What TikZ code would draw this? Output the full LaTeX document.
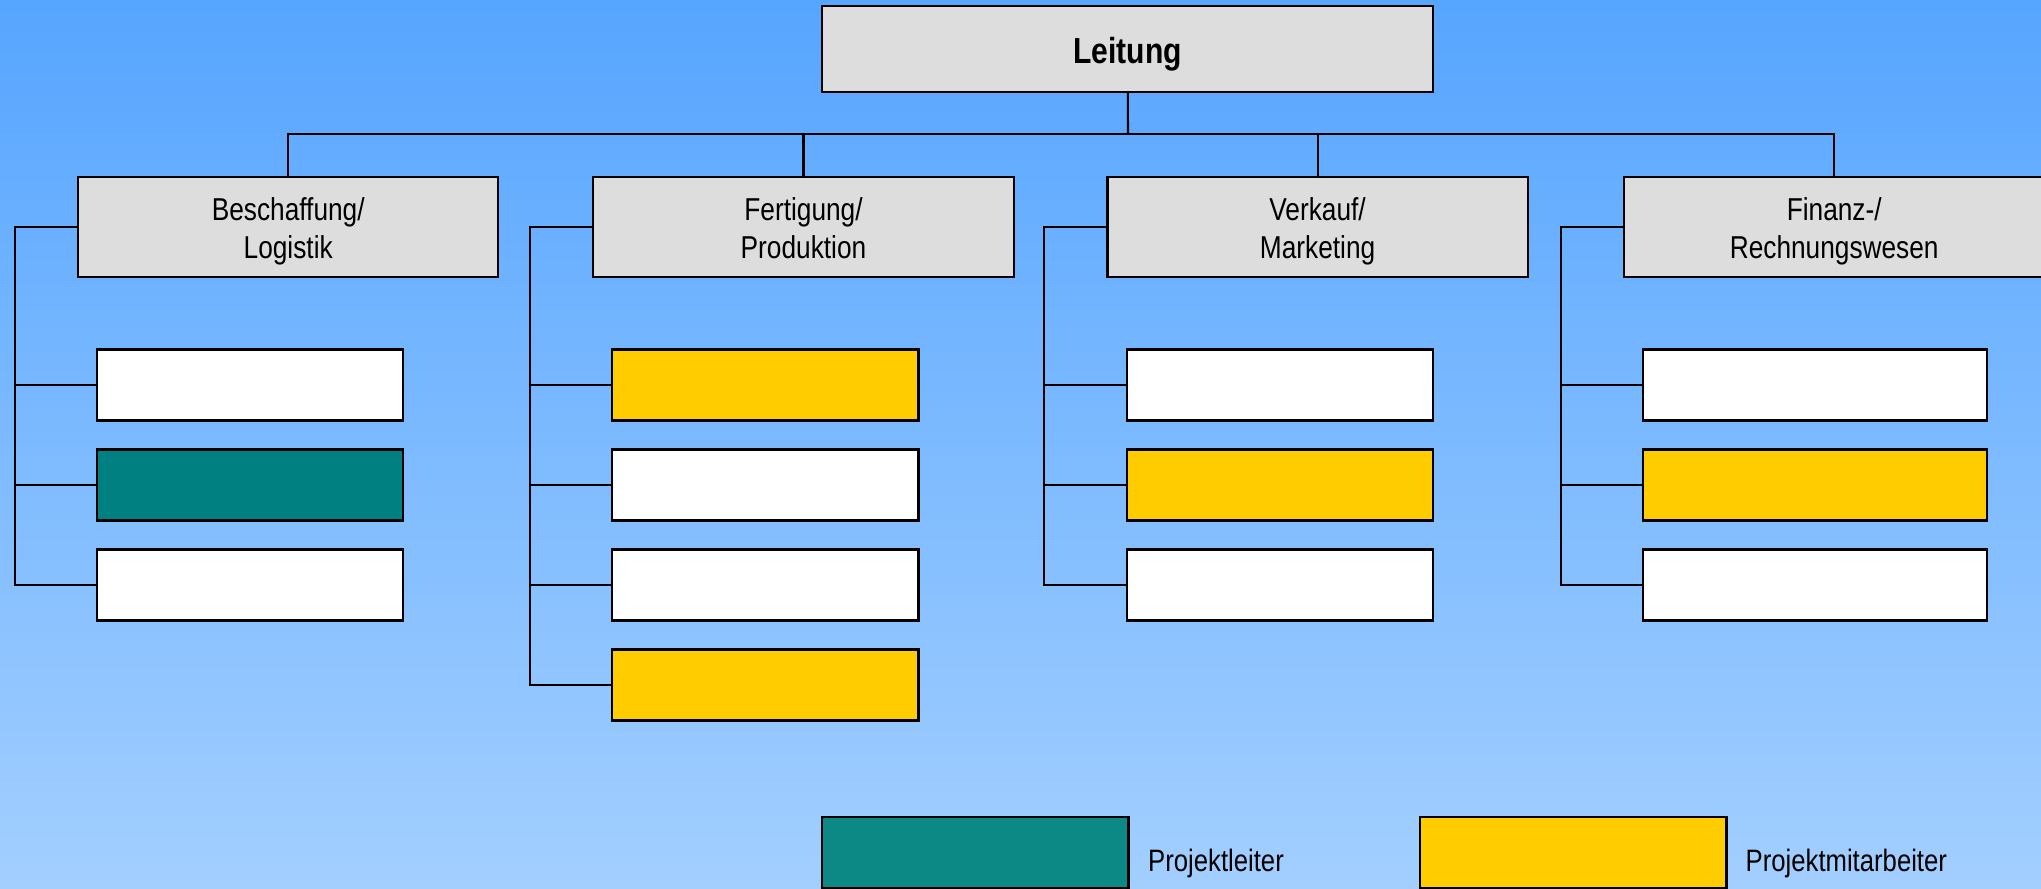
\documentclass[tikz,border=0pt]{standalone}
\usepackage{fontspec}
\usetikzlibrary{calc}
\setmainfont{Liberation Sans}
\newfontfamily\nf[FakeStretch=0.83]{Liberation Sans}
\definecolor{bgtop}{RGB}{86,165,255}
\definecolor{bgbot}{RGB}{163,207,255}
\definecolor{boxgray}{RGB}{221,221,221}
\definecolor{tealbox}{RGB}{0,128,128}
\definecolor{tealleg}{RGB}{12,136,133}
\definecolor{yellowbox}{RGB}{255,204,0}
\newcommand{\twolines}[2]{\begin{tabular}[t]{@{}c@{}}#1\\#2\end{tabular}}
\tikzset{
  line/.style={draw=black, line width=0.6pt},
  lead/.style={line, fill=boxgray, minimum width=6.107cm, minimum height=0.86cm, inner sep=0pt, outer sep=0pt, text height=0.292cm, text depth=0pt, font=\nf\bfseries\fontsize{10.3}{12}\selectfont},
  head/.style={line, fill=boxgray, minimum width=4.2cm, minimum height=1cm, inner sep=0pt, outer sep=0pt, text height=0.248cm, text depth=0.38cm, font=\nf\fontsize{9}{10.8}\selectfont},
  sub/.style={line, minimum width=3.06cm, minimum height=0.71cm, inner sep=0pt, outer sep=0pt},
  widesub/.style={sub, minimum width=3.44cm},
  wbox/.style={fill=white},
  tbox/.style={fill=tealbox},
  ybox/.style={fill=yellowbox},
  legtext/.style={anchor=base west, inner sep=0pt, font=\nf\fontsize{8.8}{10}\selectfont}
}
\begin{document}
\begin{tikzpicture}[x=0.01cm,y=-0.01cm]
\useasboundingbox (0,0) rectangle (2041,889);
\clip (0,0) rectangle (2041,889);
\shade[top color=bgtop, bottom color=bgbot] (0,0) rectangle (2041,889);

% top
\node[lead] (L) at (1127.8,48.7) {Leitung};

% heads
\node[head] (b) at (288.2,227.3) {\twolines{Beschaffung/}{Logistik}};
\node[head] (f) at (803.5,227.3) {\twolines{Fertigung/}{Produktion}};
\node[head] (v) at (1317.6,227.3) {\twolines{Verkauf/}{Marketing}};
\node[head] (n) at (1834.2,227.3) {\twolines{Finanz-/}{Rechnungswesen}};

% bus
\coordinate (bus) at (1128,134.3);
\draw[line] (L.south) -- (bus);
\draw[line] (b.north) |- (bus) -| (n.north);
\draw[line] (f.north) -- (f.north |- bus);
\draw[line] (v.north) -- (v.north |- bus);

% sub boxes
\node[sub,wbox] (b1) at (250.3,385) {};
\node[sub,tbox] (b2) at (250.3,485) {};
\node[sub,wbox] (b3) at (250.3,585) {};

\node[sub,ybox] (f1) at (765.4,385) {};
\node[sub,wbox] (f2) at (765.4,485) {};
\node[sub,wbox] (f3) at (765.4,585) {};
\node[sub,ybox] (f4) at (765.4,685) {};

\node[sub,wbox] (v1) at (1280.3,385) {};
\node[sub,ybox] (v2) at (1280.3,485) {};
\node[sub,wbox] (v3) at (1280.3,585) {};

\node[widesub,wbox] (n1) at (1814.7,385) {};
\node[widesub,ybox] (n2) at (1814.7,485) {};
\node[widesub,wbox] (n3) at (1814.7,585) {};

% spines
\coordinate (bs) at ($(b.west)+(-63.5,0)$);
\coordinate (fs) at ($(f.west)+(-63.5,0)$);
\coordinate (vs) at ($(v.west)+(-63.5,0)$);
\coordinate (ns) at ($(n.west)+(-63.5,0)$);

\draw[line] (b.west) -- (bs) |- (b3.west);
\draw[line] (bs |- b1.west) -- (b1.west);
\draw[line] (bs |- b2.west) -- (b2.west);

\draw[line] (f.west) -- (fs) |- (f4.west);
\draw[line] (fs |- f1.west) -- (f1.west);
\draw[line] (fs |- f2.west) -- (f2.west);
\draw[line] (fs |- f3.west) -- (f3.west);

\draw[line] (v.west) -- (vs) |- (v3.west);
\draw[line] (vs |- v1.west) -- (v1.west);
\draw[line] (vs |- v2.west) -- (v2.west);

\draw[line] (n.west) -- (ns) |- (n3.west);
\draw[line] (ns |- n1.west) -- (n1.west);
\draw[line] (ns |- n2.west) -- (n2.west);

% legend
\node[sub, fill=tealleg] (lp) at (975.4,852.2) {};
\node[legtext] (lpt) at (1147.5,871.7) {Projektleiter};
\node[sub, ybox] (lm) at (1573.4,852.2) {};
\node[legtext] (lmt) at (1745,871.7) {Projektmitarbeiter};
\end{tikzpicture}
\end{document}
